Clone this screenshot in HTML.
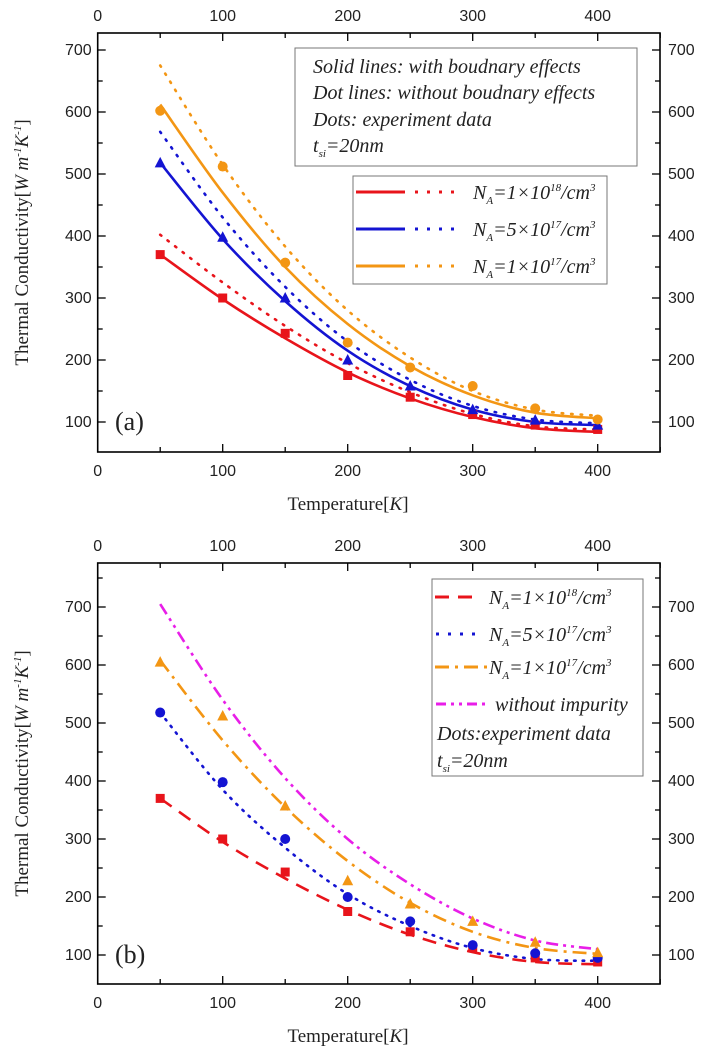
<!DOCTYPE html>
<html><head><meta charset="utf-8">
<style>
html,body{margin:0;padding:0;background:#fff;}
svg{display:block;}
text{font-family:"Liberation Sans",sans-serif;fill:#222;}
.serif{font-family:"Liberation Serif",serif;}
.it{font-family:"Liberation Serif",serif;font-style:italic;}
</style></head>
<body>
<svg id="chart" width="709" height="1053" font-size="16"></svg>
<script>
const temps = [50,100,150,200,250,300,350,400];
const xTicks = [0,100,200,300,400];
const yTicks = [100,200,300,400,500,600,700];
// Panel (a)
const aRedPts = [370,300,243,175,140,112,95,88];
const aBluePts = [518,398,300,200,158,120,103,95];
const aOrangePts = [602,512,357,228,188,158,122,104];
const aRedSolid = [370,298,235,180,138,108,90,84];
const aRedDot = [402,325,255,195,148,113,93,88];
const aBlueSolid = [518,395,295,215,158,120,100,95];
const aBlueDot = [568,430,318,230,168,126,104,98];
const aOrangeSolid = [612,470,350,258,190,143,115,106];
const aOrangeDot = [675,515,383,280,204,150,120,110];
// Panel (b)
const bRedPts = [370,300,243,175,140,112,95,88];
const bBluePts = [518,398,300,200,158,117,103,95];
const bOrangePts = [605,512,357,228,188,158,122,104];
const bRedLine = [370,295,232,178,135,105,88,84];
const bBlueLine = [518,385,285,205,150,112,93,90];
const bOrangeLine = [608,470,355,262,190,140,112,102];
const bMagentaLine = [705,540,405,300,222,163,125,110];

const NS="http://www.w3.org/2000/svg";
const svg=document.getElementById('chart');
function el(tag,attrs,parent){const e=document.createElementNS(NS,tag);for(const k in attrs)e.setAttribute(k,attrs[k]);(parent||svg).appendChild(e);return e;}
const RED="#e8141b",BLUE="#1414d2",ORANGE="#f39614",MAG="#e81ee8";

function panel(cfg){
  const g=el('g',{});
  
  
  const L=97.7,R=660,T=cfg.top,B=cfg.bottom;
  const xs=v=>L+1.25*v;
  const ys=v=>cfg.y100-(v-100)*cfg.k;
  const fr=el('rect',{x:L,y:T,width:R-L,height:B-T,fill:'none',stroke:'#000','stroke-width':1.6},g);
  
  
  for(let v=0;v<=450;v+=50){
    const len=v%100===0?8:5;
    el('line',{x1:xs(v),x2:xs(v),y1:B,y2:B-len,stroke:'#000','stroke-width':1.3},g);
    el('line',{x1:xs(v),x2:xs(v),y1:T,y2:T+len,stroke:'#000','stroke-width':1.3},g);
  }
  xTicks.forEach(v=>{
    const t1=el('text',{x:xs(v),y:B+24,'text-anchor':'middle'},g);t1.textContent=v;
    
    
    const t2=el('text',{x:xs(v),y:T-12,'text-anchor':'middle'},g);t2.textContent=v;
    
    
  });
  for(let v=50;v<=750;v+=50){
    const y=ys(v); if(y<T+1||y>B-1)continue;
    const len=v%100===0?8:5;
    el('line',{x1:L,x2:L+len,y1:y,y2:y,stroke:'#000','stroke-width':1.3},g);
    el('line',{x1:R,x2:R-len,y1:y,y2:y,stroke:'#000','stroke-width':1.3},g);
  }
  yTicks.forEach(v=>{
    const t1=el('text',{x:L-6,y:ys(v)+5,'text-anchor':'end'},g);t1.textContent=v;
    
    
    const t2=el('text',{x:R+8,y:ys(v)+5},g);t2.textContent=v;
    
    
  });
  const xt=el('text',{x:348,y:B+58,'text-anchor':'middle',class:'serif','font-size':19},g);
  xt.innerHTML='Temperature[<tspan class="it">K</tspan>]';
  
  
  const cy=(T+B)/2;
  const yt=el('text',{x:0,y:0,'text-anchor':'middle',class:'serif','font-size':19,transform:`translate(28,${cy}) rotate(-90)`},g);
  yt.innerHTML='Thermal Conductivity[<tspan class="it">W m<tspan dy="-7" font-size="11">-1</tspan><tspan dy="7">K</tspan><tspan dy="-7" font-size="11">-1</tspan></tspan><tspan dy="7">]</tspan>';
  
  
  const pl=el('text',{x:115,y:cfg.labelY,class:'serif','font-size':26},g);
  pl.textContent=cfg.label;
  
  
  return {g,xs,ys};
}
function smooth(vals,xs,ys){
  const p=temps.map((t,i)=>[xs(t),ys(vals[i])]);
  let d=`M${p[0][0]},${p[0][1]}`;
  for(let i=0;i<p.length-1;i++){
    const p0=p[Math.max(0,i-1)],p1=p[i],p2=p[i+1],p3=p[Math.min(p.length-1,i+2)];
    d+=` C${p1[0]+(p2[0]-p0[0])/6},${p1[1]+(p2[1]-p0[1])/6} ${p2[0]-(p3[0]-p1[0])/6},${p2[1]-(p3[1]-p1[1])/6} ${p2[0]},${p2[1]}`;
  }
  return d;
}
function line(P,vals,color,dash,name){
  const e=el('path',{d:smooth(vals,P.xs,P.ys),fill:'none',stroke:color,'stroke-width':2.6,'stroke-dasharray':dash||'none','stroke-linecap':dash&&dash.startsWith('1.5')?'round':'butt'},P.g);
  
  
}
function marks(P,vals,color,shape,name){
  temps.forEach((t,i)=>{
    const x=P.xs(t),y=P.ys(vals[i]);let e;
    if(shape==='sq')e=el('rect',{x:x-4.5,y:y-4.5,width:9,height:9,fill:color},P.g);
    else if(shape==='tri')e=el('polygon',{points:`${x},${y-6} ${x-5.5},${y+4.5} ${x+5.5},${y+4.5}`,fill:color},P.g);
    else e=el('circle',{cx:x,cy:y,r:5,fill:color},P.g);
    
    
  });
}
const A=panel({name:'panel-a',top:33,bottom:452,y100:422,k:0.62,label:'(a)',labelY:430});
line(A,aRedSolid,RED,null,'red-solid-line');
line(A,aRedDot,RED,'1.5 8','red-dot-line');
line(A,aBlueSolid,BLUE,null,'blue-solid-line');
line(A,aBlueDot,BLUE,'1.5 8','blue-dot-line');
line(A,aOrangeSolid,ORANGE,null,'orange-solid-line');
line(A,aOrangeDot,ORANGE,'1.5 8','orange-dot-line');
marks(A,aRedPts,RED,'sq','red-square-point');
marks(A,aBluePts,BLUE,'tri','blue-triangle-point');
marks(A,aOrangePts,ORANGE,'circ','orange-circle-point');
const Bp=panel({name:'panel-b',top:563,bottom:984,y100:955,k:0.58,label:'(b)',labelY:963});
line(Bp,bRedLine,RED,'14 9','red-dashed-line');
line(Bp,bBlueLine,BLUE,'1.5 7','blue-dotted-line');
line(Bp,bOrangeLine,ORANGE,'14 6 3 6','orange-dashdot-line');
line(Bp,bMagentaLine,MAG,'12 5 3 5 3 5','magenta-dashdotdot-line');
marks(Bp,bRedPts,RED,'sq','red-square-point');
marks(Bp,bBluePts,BLUE,'circ','blue-circle-point');
marks(Bp,bOrangePts,ORANGE,'tri','orange-triangle-point');
</script>
<svg width="709" height="1053" font-size="18" style="position:absolute;left:0;top:0">
<g>
<rect x="295" y="48" width="342" height="118" fill="#fff" stroke="#777" stroke-width="1"/>
<text class="it" x="313" y="73" font-size="20">Solid lines: with boudnary effects</text>
<text class="it" x="313" y="99" font-size="20">Dot lines: without boudnary effects</text>
<text class="it" x="313" y="126" font-size="20">Dots: experiment data</text>
<text class="it" x="313" y="152" font-size="20">t<tspan font-size="11" dy="5">si</tspan><tspan dy="-5">=20nm</tspan></text>
</g>
<g>
<rect x="353" y="176" width="254" height="108" fill="#fff" stroke="#777" stroke-width="1"/>
<line x1="356" x2="405" y1="192" y2="192" stroke="#e8141b" stroke-width="3"/>
<line x1="415" x2="455" y1="192" y2="192" stroke="#e8141b" stroke-width="3" stroke-dasharray="3 9"/>
<text class="it" x="473" y="199" font-size="20">N<tspan font-size="11" dy="5">A</tspan><tspan dy="-5">=1×10</tspan><tspan font-size="11" dy="-8">18</tspan><tspan dy="8">/cm</tspan><tspan font-size="11" dy="-8">3</tspan></text>
<line x1="356" x2="405" y1="229" y2="229" stroke="#1414d2" stroke-width="3"/>
<line x1="415" x2="455" y1="229" y2="229" stroke="#1414d2" stroke-width="3" stroke-dasharray="3 9"/>
<text class="it" x="473" y="236" font-size="20">N<tspan font-size="11" dy="5">A</tspan><tspan dy="-5">=5×10</tspan><tspan font-size="11" dy="-8">17</tspan><tspan dy="8">/cm</tspan><tspan font-size="11" dy="-8">3</tspan></text>
<line x1="356" x2="405" y1="266" y2="266" stroke="#f39614" stroke-width="3"/>
<line x1="415" x2="455" y1="266" y2="266" stroke="#f39614" stroke-width="3" stroke-dasharray="3 9"/>
<text class="it" x="473" y="273" font-size="20">N<tspan font-size="11" dy="5">A</tspan><tspan dy="-5">=1×10</tspan><tspan font-size="11" dy="-8">17</tspan><tspan dy="8">/cm</tspan><tspan font-size="11" dy="-8">3</tspan></text>
</g>
<g>
<rect x="432" y="579" width="211" height="197" fill="#fff" stroke="#777" stroke-width="1"/>
<line x1="435" x2="480" y1="597" y2="597" stroke="#e8141b" stroke-width="3" stroke-dasharray="14 9"/>
<text class="it" x="489" y="604" font-size="20">N<tspan font-size="11" dy="5">A</tspan><tspan dy="-5">=1×10</tspan><tspan font-size="11" dy="-8">18</tspan><tspan dy="8">/cm</tspan><tspan font-size="11" dy="-8">3</tspan></text>
<line x1="436" x2="480" y1="634" y2="634" stroke="#1414d2" stroke-width="3" stroke-dasharray="3 9"/>
<text class="it" x="489" y="641" font-size="20">N<tspan font-size="11" dy="5">A</tspan><tspan dy="-5">=5×10</tspan><tspan font-size="11" dy="-8">17</tspan><tspan dy="8">/cm</tspan><tspan font-size="11" dy="-8">3</tspan></text>
<line x1="435" x2="488" y1="667" y2="667" stroke="#f39614" stroke-width="3" stroke-dasharray="14 6 3 6"/>
<text class="it" x="489" y="674" font-size="20">N<tspan font-size="11" dy="5">A</tspan><tspan dy="-5">=1×10</tspan><tspan font-size="11" dy="-8">17</tspan><tspan dy="8">/cm</tspan><tspan font-size="11" dy="-8">3</tspan></text>
<line x1="436" x2="487" y1="704" y2="704" stroke="#e81ee8" stroke-width="3" stroke-dasharray="10 5 3 5 3 5"/>
<text class="it" x="495" y="711" font-size="20">without impurity</text>
<text class="it" x="437" y="740" font-size="20">Dots:experiment data</text>
<text class="it" x="437" y="767" font-size="20">t<tspan font-size="11" dy="5">si</tspan><tspan dy="-5">=20nm</tspan></text>
</g>
</svg>
</body></html>
